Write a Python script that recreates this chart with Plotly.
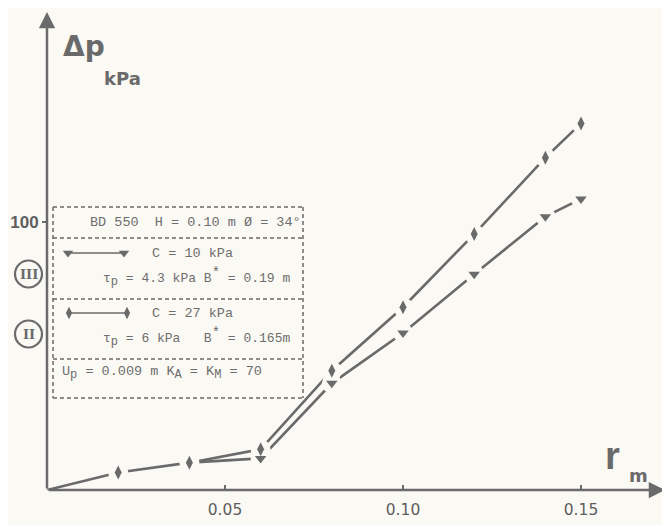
import plotly.graph_objects as go

# curve II (diamonds, C = 27 kPa) and curve III (triangles, C = 10 kPa)
r_ii = [0, 0.02, 0.04, 0.06, 0.08, 0.10, 0.12, 0.14, 0.15]
dp_ii = [0, 6.5, 10.2, 15.2, 44.5, 68.2, 95.5, 124.0, 136.8]
r_iii = [0.04, 0.06, 0.08, 0.10, 0.12, 0.14, 0.15]
dp_iii = [10.2, 11.8, 39.8, 58.6, 80.5, 102.0, 108.6]

x_ticks = [0.05, 0.10, 0.15]
x_tick_text = ['0.05', '0.10', '0.15']
y_ticks = [100]
y_tick_text = ['<b>100</b>']

bg = '#fbf9f4'
ink = '#6a6a6a'
# the page puts the figure 8px in from the top left corner
OFF = 8
W, H = 670 - OFF, 525 - OFF
# pixel position of the axes (origin and arrow tips), in window pixels
X0, X1 = 47, 665
Y0, Y1 = 490, 12
x_max = 0.05 * (X1 - X0) / 178.0
y_max = 100 * (Y0 - Y1) / 268.0

fig = go.Figure()

# curves
fig.add_trace(go.Scatter(x=r_iii, y=dp_iii, mode='lines', line=dict(color=ink, width=2.6),
                         xaxis='x', yaxis='y', hoverinfo='skip'))
fig.add_trace(go.Scatter(x=r_ii, y=dp_ii, mode='lines', line=dict(color=ink, width=2.6),
                         xaxis='x', yaxis='y', hoverinfo='skip'))
# gaps in the line around each marker
fig.add_trace(go.Scatter(x=r_iii[1:], y=dp_iii[1:], mode='markers',
                         marker=dict(symbol='circle', size=20, color=bg), hoverinfo='skip'))
fig.add_trace(go.Scatter(x=r_ii[1:], y=dp_ii[1:], mode='markers',
                         marker=dict(symbol='circle', size=20, color=bg), hoverinfo='skip'))
# markers
fig.add_trace(go.Scatter(x=r_iii[1:], y=dp_iii[1:], mode='markers',
                         marker=dict(symbol='triangle-down', size=10, color=ink), hoverinfo='skip'))
fig.add_trace(go.Scatter(x=r_ii[1:], y=dp_ii[1:], mode='markers',
                         marker=dict(symbol='diamond-tall', size=10, color=ink), hoverinfo='skip'))

# legend samples, drawn on an overlay axis in window pixels
fig.add_trace(go.Scatter(x=[68, 124], y=[253, 253], mode='lines+markers', xaxis='x2', yaxis='y2',
                         line=dict(color=ink, width=1.5),
                         marker=dict(symbol='triangle-down', size=9, color=ink), hoverinfo='skip'))
fig.add_trace(go.Scatter(x=[69, 127], y=[313, 313], mode='lines+markers', xaxis='x2', yaxis='y2',
                         line=dict(color=ink, width=1.5),
                         marker=dict(symbol='diamond-tall', size=9, color=ink), hoverinfo='skip'))

# dashed legend box
dash = dict(color=ink, width=1.5, dash='4px,3px')
box_l, box_r = 53, 303
rows = [207, 238, 299, 359, 398]
for yy in rows:
    fig.add_shape(type='line', xref='x2', yref='y2', x0=box_l, x1=box_r, y0=yy, y1=yy, line=dash)
for xx in [box_l, box_r]:
    fig.add_shape(type='line', xref='x2', yref='y2', x0=xx, x1=xx, y0=rows[0], y1=rows[-1], line=dash)

# circled curve numbers
for cy, label in [(274, 'III'), (334, 'II')]:
    fig.add_shape(type='circle', xref='x2', yref='y2', x0=15, x1=42, y0=cy - 13.5, y1=cy + 13.5,
                  line=dict(color=ink, width=2.2))
    fig.add_annotation(x=28.5, y=cy, xref='x2', yref='y2', text='<b>' + label + '</b>', showarrow=False,
                       font=dict(family='DejaVu Serif', size=13, color=ink))

mono = dict(family='Liberation Mono', size=13.5, color='#6e6e6e')
sp = '\u00a0'


def sub(t):
    return '<sub><span style="font-size:12px">' + t + '</span></sub>'


star = '<sup><span style="font-size:14px">*</span></sup>'
legend_texts = [
    (88, 222, 'BD 550  H = 0.10 m Ø = 34°'),
    (150, 253, 'C = 10 kPa'),
    (101, 277, 'τ{p} = 4.3 kPa B{s} = 0.19 m'),
    (150, 313, 'C = 27 kPa'),
    (101, 337, 'τ{p} = 6 kPa   B{s} = 0.165m'),
    (60, 373, 'U{p} = 0.009 m K{a} = K{m} = 70'),
]
for tx, ty, txt in legend_texts:
    size = 13 if '{s}' in txt else 13.5
    txt = txt.replace(' ', sp).format(p=sub('p'), s=star, a=sub('A'), m=sub('M'))
    fig.add_annotation(x=tx, y=ty, xref='x2', yref='y2', text=txt,
                       showarrow=False, xanchor='left', yanchor='middle', font=dict(mono, size=size))

# axis titles
bold = 'DejaVu Sans'
fig.add_annotation(x=61, y=46, xref='x2', yref='y2', text='<b>Δp</b>', showarrow=False,
                   xanchor='left', yanchor='middle', font=dict(family=bold, size=28, color=ink))
fig.add_annotation(x=102, y=78, xref='x2', yref='y2', text='<b>kPa</b>', showarrow=False,
                   xanchor='left', yanchor='middle', font=dict(family=bold, size=18, color=ink))
fig.add_annotation(x=612, y=456, xref='x2', yref='y2', text='<b>r</b>', showarrow=False,
                   xanchor='center', yanchor='middle', font=dict(family='Liberation Sans', size=38, color=ink))
fig.add_annotation(x=638, y=475, xref='x2', yref='y2', text='<b>m</b>', showarrow=False,
                   xanchor='center', yanchor='middle', font=dict(family=bold, size=18, color=ink))

# axes with arrow heads
fig.add_annotation(x=x_max, y=0, ax=0, ay=0, xref='x', yref='y', axref='x', ayref='y', text='',
                   showarrow=True, arrowhead=2, arrowsize=1.3, arrowwidth=2.5, arrowcolor=ink)
fig.add_annotation(x=0, y=y_max, ax=0, ay=0, xref='x', yref='y', axref='x', ayref='y', text='',
                   showarrow=True, arrowhead=2, arrowsize=1.3, arrowwidth=2.5, arrowcolor=ink)

fig.update_layout(
    width=W, height=H,
    margin=dict(l=0, r=0, t=0, b=0),
    paper_bgcolor=bg, plot_bgcolor='rgba(0,0,0,0)',
    showlegend=False,
    xaxis=dict(domain=[(X0 - OFF) / W, (X1 - OFF) / W], range=[0, x_max], showgrid=False,
               zeroline=False, showline=False, tickvals=x_ticks, ticktext=x_tick_text,
               ticks='inside', ticklen=5, tickwidth=2, tickcolor=ink, ticklabelstandoff=8,
               tickfont=dict(family='DejaVu Sans', size=15.5, color='#5e5e5e')),
    yaxis=dict(domain=[(H + OFF - Y0) / H, (H + OFF - Y1) / H], range=[0, y_max], showgrid=False,
               zeroline=False, showline=False, tickvals=y_ticks, ticktext=y_tick_text,
               ticks='outside', ticklen=4, tickwidth=2, tickcolor=ink, ticklabelstandoff=0,
               tickfont=dict(family='Liberation Sans', size=17, color='#5e5e5e')),
    xaxis2=dict(domain=[0, 1], range=[OFF, OFF + W], anchor='y2', visible=False),
    yaxis2=dict(domain=[0, 1], range=[OFF + H, OFF], anchor='x2', visible=False),
)

fig.write_html('out.html')
